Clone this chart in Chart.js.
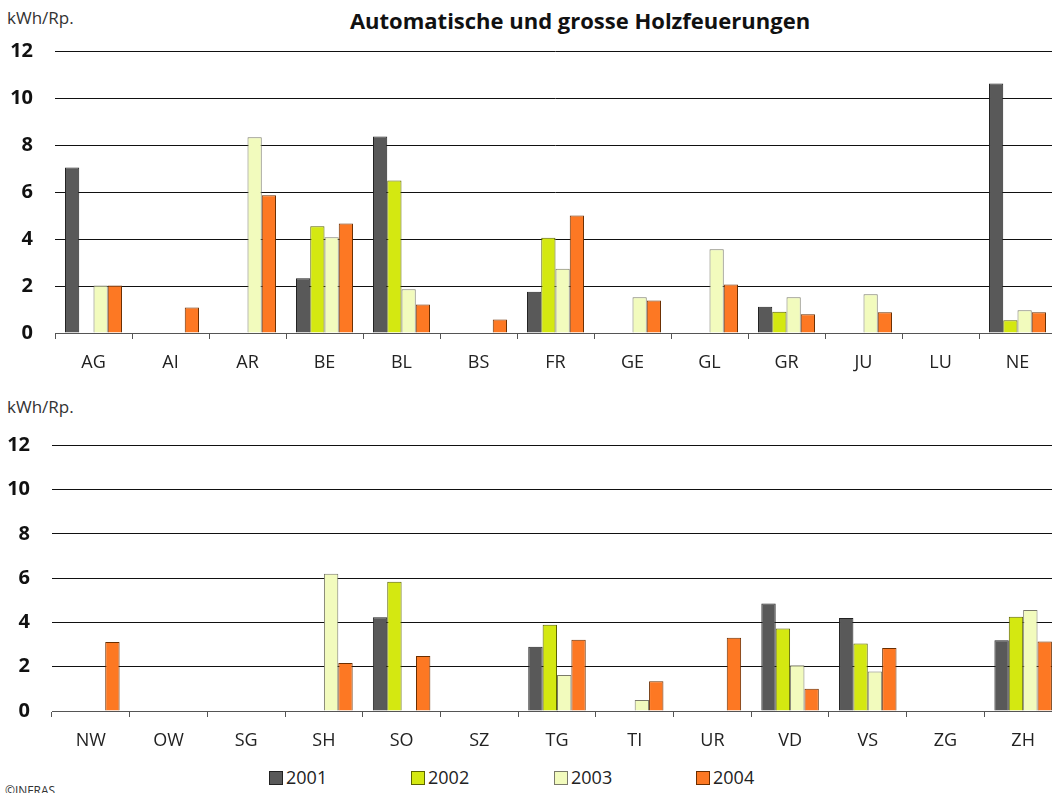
<!DOCTYPE html>
<html>
<head>
<meta charset="utf-8">
<script src="https://cdn.jsdelivr.net/npm/chart.js@4/dist/chart.umd.min.js"></script>
<style>
  html, body { margin: 0; padding: 0; background: #fff; }
  body { width: 1052px; height: 793px; overflow: hidden; position: relative; font-family: "Open Sans", sans-serif; color: #222; }
  canvas { position: absolute; left: 0; }
  .txt { position: absolute; white-space: nowrap; }
  #title { left: 580px; top: 5px; transform: translateX(-50%); font-weight: bold; font-size: 22px; line-height: 30px; color: #111; }
  .unit { left: 7px; font-size: 17px; line-height: 23px; color: #333; }
  #legend { position: absolute; top: 765px; left: 0; width: 1052px; height: 24px; }
  .leg { position: absolute; top: 0; font-size: 18px; line-height: 24px; color: #222; }
  .leg span.box { display: inline-block; width: 12px; height: 12px; border: 1px solid #333; margin-right: 3px; vertical-align: -1px; }
  #copy { left: 5px; top: 782px; font-size: 12px; color: #333; }
</style>
</head>
<body>

<div id="title" class="txt">Automatische und grosse Holzfeuerungen</div>
<div class="txt unit" style="top:6px">kWh/Rp.</div>
<div class="txt unit" style="top:395px">kWh/Rp.</div>

<canvas id="chartTop" width="1056" height="380" style="top:0"></canvas>
<canvas id="chartBottom" width="1062" height="368" style="top:390px"></canvas>

<div id="legend"></div>
<div id="copy" class="txt">©INFRAS</div>

<script>
'use strict';

/*********************************** Données ***********************************/

var years = ['2001', '2002', '2003', '2004'];
var fillColors = ['#595959', '#d4e811', '#f2fbbd', '#fd7823'];
var edgeColors = ['#222222', '#5c6400', '#7a7a6a', '#6b2e00'];

var yTicks = [0, 2, 4, 6, 8, 10, 12];

var cantonsTop = ['AG', 'AI', 'AR', 'BE', 'BL', 'BS', 'FR', 'GE', 'GL', 'GR', 'JU', 'LU', 'NE'];
var top2001 = [7.06, null, null, 2.33, 8.38, null, 1.76, null, null, 1.12, null, null, 10.64];
var top2002 = [null, null, null, 4.55, 6.5, null, 4.06, null, null, 0.91, null, null, 0.54];
var top2003 = [2.02, null, 8.34, 4.08, 1.86, null, 2.74, 1.52, 3.57, 1.52, 1.65, null, 0.97];
var top2004 = [2.02, 1.09, 5.87, 4.67, 1.22, 0.58, 5.01, 1.39, 2.07, 0.8, 0.88, null, 0.88];

var cantonsBottom = ['NW', 'OW', 'SG', 'SH', 'SO', 'SZ', 'TG', 'TI', 'UR', 'VD', 'VS', 'ZG', 'ZH'];
var bot2001 = [null, null, null, null, 4.23, null, 2.9, null, null, 4.86, 4.2, null, 3.2];
var bot2002 = [null, null, null, null, 5.84, null, 3.89, null, null, 3.73, 3.05, null, 4.26];
var bot2003 = [null, null, null, 6.2, null, null, 1.63, 0.5, null, 2.07, 1.78, null, 4.56];
var bot2004 = [3.12, null, null, 2.17, 2.48, null, 3.22, 1.34, 3.31, 1.0, 2.84, null, 3.14];

/******************************* Création des charts ****************************/

var font = '"Open Sans", sans-serif';

function makeDatasets(series) {
  return series.map(function(values, i) {
    return {
      label: years[i],
      data: values,
      backgroundColor: fillColors[i],
      borderColor: edgeColors[i],
      borderWidth: 1,
      categoryPercentage: 0.74,
      barPercentage: 1.0
    };
  });
}

function makeChart(id, labels, series, yWidth, padTop) {
  return new Chart(document.getElementById(id).getContext('2d'), {
    type: 'bar',
    data: { labels: labels, datasets: makeDatasets(series) },
    options: {
      responsive: false,
      animation: false,
      layout: { padding: { top: padTop, left: 0, right: 0, bottom: 0 } },
      plugins: { legend: { display: false }, tooltip: { enabled: false }, title: { display: false } },
      scales: {
        x: {
          grid: { offset: true, drawOnChartArea: false, drawTicks: true, tickLength: 6, color: '#555' },
          border: { display: true, color: '#555', width: 1 },
          ticks: { padding: 13, color: '#222', font: { family: font, size: 18 } },
          afterFit: function(s) { s.height = 47; }
        },
        y: {
          min: 0,
          max: 12,
          afterBuildTicks: function(s) { s.ticks = yTicks.map(function(v) { return { value: v }; }); },
          grid: { drawTicks: false, color: '#111', lineWidth: 1 },
          border: { display: false },
          ticks: { padding: 22, color: '#111', font: { family: font, size: 20, weight: 'bold' } },
          afterFit: function(s) { s.width = yWidth; }
        }
      }
    }
  });
}

var chartTop = makeChart('chartTop', cantonsTop, [top2001, top2002, top2003, top2004], 55, 51.5);
var chartBottom = makeChart('chartBottom', cantonsBottom, [bot2001, bot2002, bot2003, bot2004], 52, 55.3);

/*********************************** Légende ***********************************/

var legendX = [269, 411, 554, 696];
var legend = document.getElementById('legend');
years.forEach(function(y, i) {
  var item = document.createElement('div');
  item.className = 'leg';
  item.style.left = legendX[i] + 'px';
  item.innerHTML = '<span class="box" style="background:' + fillColors[i] + ';border-color:' + edgeColors[i] + '"></span>' + y;
  legend.appendChild(item);
});
</script>
</body>
</html>
